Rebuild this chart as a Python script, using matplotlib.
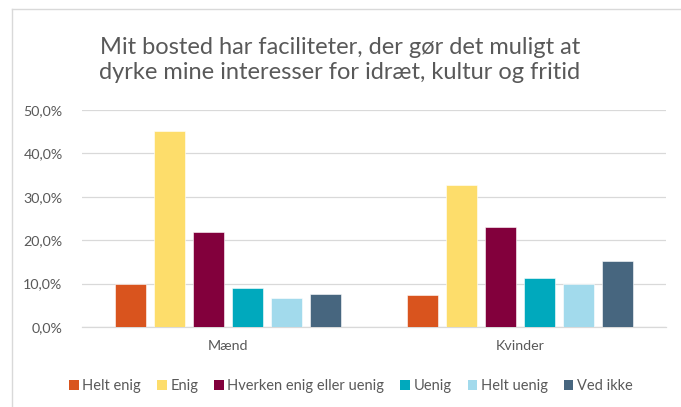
import matplotlib
matplotlib.use("Agg")
import matplotlib.pyplot as plt
import numpy as np
from matplotlib.patches import Patch
from matplotlib.ticker import FuncFormatter

plt.rcParams['font.family'] = ['Lato', 'DejaVu Sans']

categories = ["Mænd", "Kvinder"]
series = ["Helt enig", "Enig", "Hverken enig eller uenig", "Uenig", "Helt uenig", "Ved ikke"]
helt_enig = [10.0, 7.3]
enig = [45.1, 32.8]
hverken = [21.8, 23.1]
uenig = [9.0, 11.2]
helt_uenig = [6.6, 10.0]
ved_ikke = [7.5, 15.3]
colors = ["#D9541E", "#FDDD6B", "#82003C", "#00A9BD", "#A2DAEC", "#47667F"]
yticks = [0, 10, 20, 30, 40, 50]

values = [helt_enig, enig, hverken, uenig, helt_uenig, ved_ikke]
title = "Mit bosted har faciliteter, der gør det muligt at\ndyrke mine interesser for idræt, kultur og fritid"
txt = "#595959"

fig = plt.figure(figsize=(6.81, 4.07), dpi=100)
ax = fig.add_axes([82/681, 1-327/407, (666-82)/681, (327-110)/407])

x = np.arange(len(categories))
step = 0.1336
width = 0.106
for i, (name, vals, c) in enumerate(zip(series, values, colors)):
    ax.bar(x + (i-2.5)*step, vals, width=width, color=c, edgecolor='white', linewidth=0.4, label=name, zorder=3)

ax.set_xlim(-0.5, 1.5)
ax.set_ylim(0, 50)
ax.set_yticks(yticks)
ax.yaxis.set_major_formatter(FuncFormatter(lambda v, p: f"{v:.1f}%".replace('.', ',')))
ax.set_xticks(x)
ax.set_xticklabels(categories)
ax.tick_params(axis='both', length=0, colors=txt, labelsize=10.3)
ax.tick_params(axis='y', pad=14)
ax.tick_params(axis='x', pad=9)
ax.grid(axis='y', color='#D9D9D9', linewidth=0.9, zorder=0)
for s in ['top', 'right', 'left']:
    ax.spines[s].set_visible(False)
ax.spines['bottom'].set_color('#D9D9D9')
ax.spines['bottom'].set_linewidth(0.9)

fig.text(340/681, 1-60/407, title, ha='center', va='center', fontsize=17, color=txt, linespacing=1.25)

handles = [Patch(facecolor=c, edgecolor='none') for c in colors]
fig.legend(handles, series, loc='center', bbox_to_anchor=(351/681, 1-386/407), ncol=6,
           frameon=False, fontsize=10.5, labelcolor=txt, handlelength=0.65, handleheight=0.75,
           handletextpad=0.25, columnspacing=1.1)

# chart border
fig.add_artist(plt.Line2D([12/681, 12/681], [0, 1-9/407], color='#D9D9D9', lw=1, transform=fig.transFigure))
fig.add_artist(plt.Line2D([12/681, 1], [1-9/407, 1-9/407], color='#D9D9D9', lw=1, transform=fig.transFigure))

fig.savefig("out.png", dpi=100)
